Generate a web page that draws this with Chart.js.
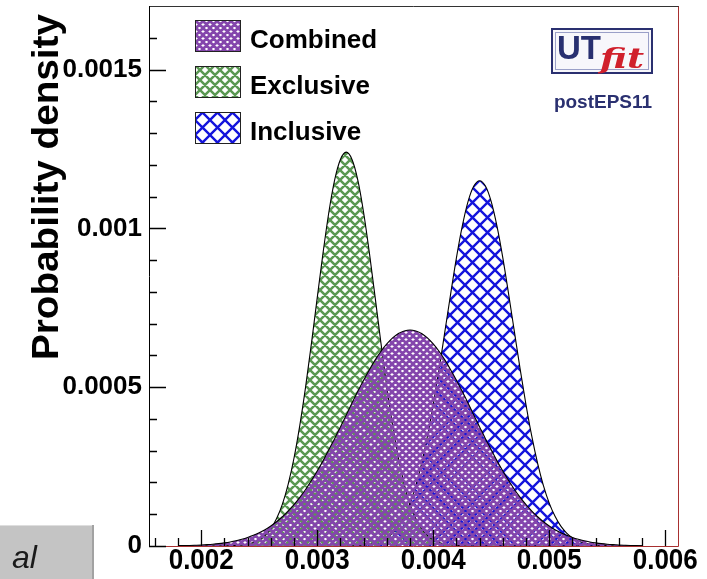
<!DOCTYPE html>
<html>
<head>
<meta charset="utf-8">
<script src="https://cdn.jsdelivr.net/npm/chart.js@4.4.0/dist/chart.umd.min.js"></script>
<style>
  html, body { margin: 0; padding: 0; background: #fff; }
  #wrap { position: relative; width: 707px; height: 579px; }
</style>
</head>
<body>
<div id="wrap"><canvas id="chart" width="707" height="579"></canvas></div>
<script>
// values (x is the quantity, y the probability density)
const xValues = [
  0.0018, 0.00185, 0.0019, 0.00195, 0.002, 0.00205, 0.0021, 0.00215, 0.0022, 0.00225,
  0.0023, 0.00235, 0.0024, 0.00245, 0.0025, 0.00255, 0.0026, 0.00265, 0.0027, 0.00275,
  0.0028, 0.00285, 0.0029, 0.00295, 0.003, 0.00305, 0.0031, 0.00315, 0.0032, 0.00325,
  0.0033, 0.00335, 0.0034, 0.00345, 0.0035, 0.00355, 0.0036, 0.00365, 0.0037, 0.00375,
  0.0038, 0.00385, 0.0039, 0.00395, 0.004, 0.00405, 0.0041, 0.00415, 0.0042, 0.00425,
  0.0043, 0.00435, 0.0044, 0.00445, 0.0045, 0.00455, 0.0046, 0.00465, 0.0047, 0.00475,
  0.0048, 0.00485, 0.0049, 0.00495, 0.005, 0.00505, 0.0051, 0.00515, 0.0052, 0.00525,
  0.0053, 0.00535, 0.0054, 0.00545, 0.0055, 0.00555, 0.0056, 0.00565, 0.0057, 0.00575,
  0.0058
];
const combinedValues = [
  0.0000009, 0.0000013, 0.0000017, 0.0000024, 0.0000032, 0.0000043, 0.0000057, 0.0000075, 0.0000099, 0.0000128,
  0.0000165, 0.0000211, 0.0000267, 0.0000335, 0.0000416, 0.0000514, 0.000063, 0.0000764, 0.000092, 0.00011,
  0.00013, 0.000153, 0.000178, 0.000206, 0.000236, 0.000268, 0.000303, 0.000338, 0.000375, 0.000412,
  0.00045, 0.000487, 0.000522, 0.000555, 0.000586, 0.000613, 0.000636, 0.000655, 0.000669, 0.000677,
  0.00068,
  0.000677, 0.000669, 0.000655, 0.000636, 0.000613, 0.000586, 0.000555, 0.000522, 0.000487, 0.00045,
  0.000412, 0.000375, 0.000338, 0.000303, 0.000268, 0.000236, 0.000206, 0.000178, 0.000153, 0.00013,
  0.00011, 0.000092, 0.0000764, 0.000063, 0.0000514, 0.0000416, 0.0000335, 0.0000267, 0.0000211, 0.0000165,
  0.0000128, 0.0000099, 0.0000075, 0.0000057, 0.0000043, 0.0000032, 0.0000024, 0.0000017, 0.0000013, 0.0000009
];
const exclusiveValues = [
  0, 0, 0, 0, 0, 0, 0, 0, 0,
  0.0000008, 0.0000016, 0.0000031, 0.0000059, 0.0000109, 0.0000194, 0.0000331, 0.0000545, 0.0000866, 0.000132,
  0.000195, 0.000277, 0.00038, 0.000501, 0.000637, 0.000781, 0.000922, 0.00105, 0.001152, 0.001217,
  0.00124,
  0.001217, 0.001152, 0.00105, 0.000922, 0.000781, 0.000637, 0.000501, 0.00038, 0.000277, 0.000195,
  0.000132, 0.0000866, 0.0000545, 0.0000331, 0.0000194, 0.0000109, 0.0000059, 0.0000031, 0.0000016, 0.0000008,
  0, 0, 0, 0, 0, 0, 0, 0, 0, 0, 0, 0, 0, 0, 0, 0, 0, 0, 0, 0, 0, 0, 0, 0, 0, 0, 0, 0, 0, 0, 0
];
const inclusiveValues = [
  0, 0, 0, 0, 0, 0, 0, 0, 0, 0, 0, 0, 0, 0, 0, 0, 0, 0, 0, 0, 0, 0, 0, 0, 0, 0, 0, 0, 0, 0,
  0.0000009, 0.0000016, 0.000003, 0.0000054, 0.0000093, 0.0000157, 0.0000256, 0.0000406, 0.0000624, 0.0000933,
  0.000135, 0.00019, 0.00026, 0.000345, 0.000444, 0.000555, 0.000674, 0.000793, 0.000907, 0.001006,
  0.001084, 0.001133,
  0.00115,
  0.001133, 0.001084, 0.001006, 0.000907, 0.000793, 0.000674, 0.000555, 0.000444, 0.000345, 0.00026,
  0.00019, 0.000135, 0.0000933, 0.0000624, 0.0000406, 0.0000256, 0.0000157, 0.0000093, 0.0000054, 0.000003,
  0.0000016, 0.0000009,
  0, 0, 0, 0, 0, 0
];
const seriesLabels = ["Combined", "Exclusive", "Inclusive"];
const xTickValues = [0.002, 0.003, 0.004, 0.005, 0.006];
const xTickLabels = ["0.002", "0.003", "0.004", "0.005", "0.006"];
const yTickValues = [0, 0.0005, 0.001, 0.0015];
const yTickLabels = ["0", "0.0005", "0.001", "0.0015"];
const yTitle = "Probability density";

const canvas = document.getElementById("chart");
const ctx = canvas.getContext("2d");
const FONT = '"Liberation Sans", Arial, Helvetica, sans-serif';

// cross hatch like the ROOT fill styles
function makeHatch(color, size, lineWidth) {
  const c = document.createElement("canvas");
  c.width = size;
  c.height = size;
  const g = c.getContext("2d");
  g.strokeStyle = color;
  g.lineWidth = lineWidth;
  g.beginPath();
  [-size, 0, size].forEach((o) => {
    g.moveTo(o, 0);
    g.lineTo(o + size, size);
    g.moveTo(o, size);
    g.lineTo(o + size, 0);
  });
  g.stroke();
  return ctx.createPattern(c, "repeat");
}

const hatchCombined = makeHatch("#8446ac", 7, 2.7);
const hatchExclusive = makeHatch("#5a9852", 10, 2.5);
const hatchInclusive = makeHatch("#1414dc", 15, 2.4);

function toPoints(ys) {
  return xValues.map((x, i) => ({ x: x, y: ys[i] }));
}

const framePlugin = {
  id: "rootFrame",
  afterDatasetsDraw(chart) {
    const c = chart.ctx;
    const xs = chart.scales.x;
    const ys = chart.scales.y;
    const a = chart.chartArea;
    c.save();

    // frame
    c.lineWidth = 1;
    c.strokeStyle = "#a83030";
    c.beginPath();
    c.moveTo(a.left, a.bottom + 0.5);
    c.lineTo(a.right + 0.5, a.bottom + 0.5);
    c.lineTo(a.right + 0.5, a.top);
    c.stroke();
    c.strokeStyle = "#333";
    c.beginPath();
    c.moveTo(a.left, a.top + 0.5);
    c.lineTo(a.right + 0.5, a.top + 0.5);
    c.stroke();
    c.strokeStyle = "#000";
    c.beginPath();
    c.moveTo(a.left + 0.5, a.top);
    c.lineTo(a.left + 0.5, a.bottom + 1);
    c.stroke();

    // ticks, drawn inside the frame
    c.lineWidth = 1.3;
    c.beginPath();
    for (let v = 0.0001; v < ys.max; v += 0.0001) {
      const py = Math.round(ys.getPixelForValue(v)) + 0.5;
      c.moveTo(a.left, py);
      c.lineTo(a.left + 8, py);
    }
    yTickValues.forEach((v) => {
      const py = Math.round(ys.getPixelForValue(v)) + 0.5;
      c.moveTo(a.left, py);
      c.lineTo(a.left + 17, py);
    });
    for (let v = 0.0016; v < xs.max; v += 0.0002) {
      const px = Math.round(xs.getPixelForValue(v)) + 0.5;
      c.moveTo(px, a.bottom);
      c.lineTo(px, a.bottom - 8);
    }
    xTickValues.forEach((v) => {
      const px = Math.round(xs.getPixelForValue(v)) + 0.5;
      c.moveTo(px, a.bottom);
      c.lineTo(px, a.bottom - 16);
    });
    c.stroke();

    // tick labels
    c.fillStyle = "#000";
    c.font = "bold 26px " + FONT;
    c.textAlign = "right";
    c.textBaseline = "middle";
    yTickValues.forEach((v, i) => {
      c.fillText(yTickLabels[i], a.left - 7, ys.getPixelForValue(v));
    });
    c.textAlign = "center";
    c.textBaseline = "top";
    xTickValues.forEach((v, i) => {
      c.save();
      c.translate(xs.getPixelForValue(v), a.bottom);
      c.scale(1, 1.15);
      c.fillText(xTickLabels[i], 0, 0);
      c.restore();
    });

    // y title, ROOT style: aligned to the top end of the axis
    c.save();
    c.font = "bold 36px " + FONT;
    c.textAlign = "left";
    c.textBaseline = "alphabetic";
    const w = c.measureText(yTitle).width;
    c.translate(58, 360);
    c.rotate(-Math.PI / 2);
    c.scale(346 / w, 1);
    c.fillText(yTitle, 0, 0);
    c.restore();

    // legend
    const patterns = chart.data.datasets.map((d) => d.backgroundColor);
    c.font = "bold 26px " + FONT;
    c.textAlign = "left";
    c.textBaseline = "alphabetic";
    seriesLabels.forEach((label, i) => {
      const top = 20 + i * 46;
      c.fillStyle = "#fff";
      c.fillRect(195, top, 45, 31);
      c.fillStyle = patterns[i];
      c.fillRect(195, top, 45, 31);
      c.strokeStyle = "#222";
      c.lineWidth = 1;
      c.strokeRect(195.5, top + 0.5, 45, 31);
      c.fillStyle = "#000";
      c.fillText(label, 250, top + 28);
    });

    // UTfit logo
    c.fillStyle = "#f7f7fb";
    c.fillRect(551, 28, 102, 46);
    c.strokeStyle = "#2a3070";
    c.lineWidth = 2;
    c.strokeRect(552, 29, 100, 44);
    c.strokeStyle = "#9aa0c8";
    c.lineWidth = 1;
    c.strokeRect(555.5, 32.5, 93, 37);
    c.fillStyle = "#283070";
    c.font = "bold 33px " + FONT;
    c.textAlign = "left";
    c.fillText("UT", 557, 59);
    c.fillStyle = "#d0202c";
    c.font = 'italic bold 28px "DejaVu Serif", "Liberation Serif", serif';
    const fw = c.measureText("fit").width;
    c.save();
    c.translate(600, 68);
    c.scale(44 / fw, 1);
    c.fillText("fit", 0, 0);
    c.restore();
    c.fillStyle = "#2a3070";
    c.font = "bold 19px " + FONT;
    c.textAlign = "center";
    c.fillText("postEPS11", 603, 108);

    // grey tab at the lower left corner
    c.fillStyle = "#c4c4c4";
    c.fillRect(0, 525, 93, 54);
    c.fillStyle = "#a2a2a2";
    c.fillRect(92, 525, 2, 54);
    c.fillStyle = "#dedede";
    c.fillRect(0, 525, 92, 1);
    c.fillStyle = "#1a1a1a";
    c.font = "italic 32px " + FONT;
    c.textAlign = "left";
    c.fillText("al", 12, 568);

    c.restore();
  },
};

new Chart(canvas, {
  type: "line",
  data: {
    datasets: [
      {
        label: seriesLabels[0],
        data: toPoints(combinedValues),
        backgroundColor: hatchCombined,
        borderColor: "#000",
        borderWidth: 1.1,
        fill: "origin",
      },
      {
        label: seriesLabels[1],
        data: toPoints(exclusiveValues),
        backgroundColor: hatchExclusive,
        borderColor: "#000",
        borderWidth: 1.1,
        fill: "origin",
      },
      {
        label: seriesLabels[2],
        data: toPoints(inclusiveValues),
        backgroundColor: hatchInclusive,
        borderColor: "#000",
        borderWidth: 1.1,
        fill: "origin",
      },
    ],
  },
  options: {
    responsive: false,
    animation: false,
    devicePixelRatio: 1,
    layout: { padding: { left: 0, right: 29, top: 6, bottom: 0 } },
    elements: {
      point: { radius: 0 },
      line: { cubicInterpolationMode: "monotone" },
    },
    plugins: {
      legend: { display: false },
      tooltip: { enabled: false },
    },
    scales: {
      x: {
        type: "linear",
        min: 0.00155,
        max: 0.00611,
        grid: { display: false },
        border: { display: false },
        ticks: { display: false },
        afterBuildTicks: (s) => {
          s.ticks = xTickValues.map((v) => ({ value: v }));
        },
        afterFit: (s) => {
          s.height = 33;
        },
      },
      y: {
        type: "linear",
        min: 0,
        max: 0.0017,
        grid: { display: false },
        border: { display: false },
        ticks: { display: false },
        afterBuildTicks: (s) => {
          s.ticks = yTickValues.map((v) => ({ value: v }));
        },
        afterFit: (s) => {
          s.width = 149;
        },
      },
    },
  },
  plugins: [framePlugin],
});
</script>
</body>
</html>
